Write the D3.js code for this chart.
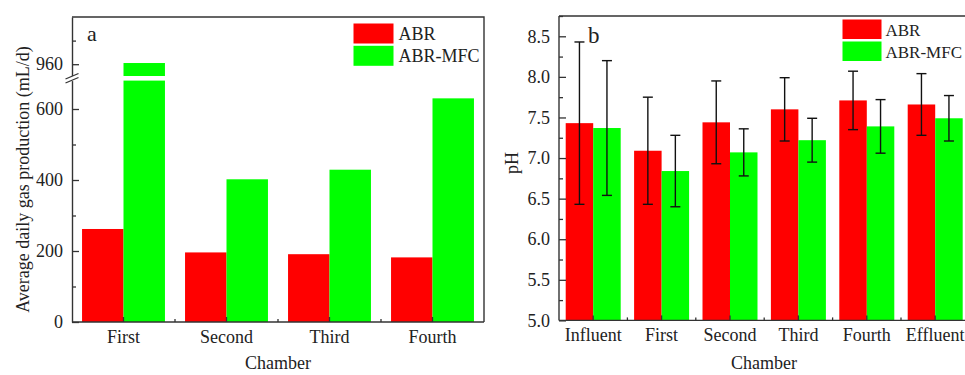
<!DOCTYPE html>
<html>
<head>
<meta charset="utf-8">
<script src="https://cdn.jsdelivr.net/npm/d3@7"></script>
<style>
  html, body { margin: 0; padding: 0; background: #fff; }
  svg { display: block; }
  text { font-family: "Liberation Serif", "Times New Roman", serif; fill: #222; }
</style>
</head>
<body>
<svg id="chart" width="965" height="375"></svg>
<script>
// ---- data ----
const series = ["ABR", "ABR-MFC"];
const seriesColors = ["#ff0000", "#00ff00"];

// (a) average daily gas production, mL/d
const gasChambers = ["First", "Second", "Third", "Fourth"];
const gasABR = [262, 196, 191, 182];
const gasABRMFC = [961, 402, 429, 630];
const gasTicksLow = [0, 200, 400, 600];
const gasTicksHigh = [960];

// (b) pH with standard deviations
const phChambers = ["Influent", "First", "Second", "Third", "Fourth", "Effluent"];
const phABR = [7.43, 7.09, 7.44, 7.60, 7.71, 7.66];
const phABRErr = [1.00, 0.66, 0.51, 0.39, 0.36, 0.38];
const phABRMFC = [7.37, 6.84, 7.07, 7.22, 7.39, 7.49];
const phABRMFCErr = [0.83, 0.44, 0.29, 0.27, 0.33, 0.28];
const phTicks = [5.0, 5.5, 6.0, 6.5, 7.0, 7.5, 8.0, 8.5];

const svg = d3.select("#chart");
const axisColor = "#333";
const fontSize = 18;

function styleAxis(g) {
  g.selectAll("path.domain").attr("stroke", axisColor).attr("stroke-width", 1.4);
  g.selectAll(".tick line").attr("stroke", axisColor).attr("stroke-width", 1.3);
  g.selectAll("text").attr("font-family", "Liberation Serif, serif")
    .attr("font-size", fontSize).attr("fill", "#222");
}

// ================= Panel (a): broken y axis =================
{
  const L = 72, R = 484, T = 17, B = 322;
  const breakLowTop = 80.6, breakHighBottom = 76;
  const yLow = d3.scaleLinear().domain([0, 680]).range([B, breakLowTop]);
  const yHigh = d3.scaleLinear().domain([950, 1000]).range([breakHighBottom, T]);
  const x = d3.scaleBand().domain(gasChambers).range([L, R])
    .paddingInner(0.195).paddingOuter(0.0975);
  const xs = d3.scaleBand().domain(series).range([0, x.bandwidth()]);
  const g = svg.append("g");

  const rows = gasChambers.map((c, i) => ({ c, vals: [gasABR[i], gasABRMFC[i]] }));
  rows.forEach(r => {
    r.vals.forEach((v, k) => {
      const x0 = x(r.c) + xs(series[k]);
      const w = xs.bandwidth();
      const lowTop = yLow(Math.min(v, 680));
      g.append("rect").attr("x", x0).attr("y", lowTop)
        .attr("width", w).attr("height", B - lowTop)
        .attr("fill", seriesColors[k]);
      if (v > 950) {
        const hiTop = yHigh(v);
        g.append("rect").attr("x", x0).attr("y", hiTop)
          .attr("width", w).attr("height", breakHighBottom - hiTop)
          .attr("fill", seriesColors[k]);
      }
    });
  });

  // y axis, lower segment
  const axLow = g.append("g").attr("transform", `translate(${L},0)`)
    .call(d3.axisLeft(yLow).tickValues(gasTicksLow).tickSize(-7).tickSizeOuter(0).tickPadding(9));
  styleAxis(axLow);
  g.append("g").attr("transform", `translate(${L},0)`)
    .call(d3.axisLeft(yLow).tickValues([100, 300, 500]).tickSize(-4).tickSizeOuter(0).tickFormat(""))
    .call(a => { a.select("path.domain").remove(); styleAxis(a); });
  // y axis, upper segment
  const axHigh = g.append("g").attr("transform", `translate(${L},0)`)
    .call(d3.axisLeft(yHigh).tickValues(gasTicksHigh).tickSize(-7).tickSizeOuter(0).tickPadding(9));
  styleAxis(axHigh);
  g.append("g").attr("transform", `translate(${L},0)`)
    .call(d3.axisLeft(yHigh).tickValues([980]).tickSize(-4).tickSizeOuter(0).tickFormat(""))
    .call(a => { a.select("path.domain").remove(); styleAxis(a); });

  // break marks on the y axis
  g.append("polygon")
    .attr("points", "65.5,79 78.5,73.5 78.5,77.5 65.5,83")
    .attr("fill", "#fff");
  [[79, 73.5], [83, 77.5]].forEach(([y1, y2]) => {
    g.append("line").attr("x1", 65.5).attr("y1", y1).attr("x2", 78.5).attr("y2", y2)
      .attr("stroke", axisColor).attr("stroke-width", 1.3);
  });

  // x axis
  const ax = g.append("g").attr("transform", `translate(0,${B})`)
    .call(d3.axisBottom(x).tickSize(-5).tickSizeOuter(0).tickPadding(8));
  styleAxis(ax);
  ax.select("path.domain").attr("d", `M${L},0H${R}`);
  const bounds = gasChambers.slice(0, -1).map(c => x(c) + x.bandwidth() + x.step() * x.paddingInner() / 2);
  bounds.forEach(bx => g.append("line").attr("x1", bx).attr("x2", bx)
    .attr("y1", B).attr("y2", B - 3).attr("stroke", axisColor).attr("stroke-width", 1.3));

  // frame top & right
  g.append("path").attr("d", `M${L},${T}H${R}V${B}`)
    .attr("fill", "none").attr("stroke", axisColor).attr("stroke-width", 1.4);

  g.append("text").attr("x", 87).attr("y", 41).attr("font-size", 22).text("a");

  // legend
  const lg = g.append("g");
  series.forEach((s, k) => {
    lg.append("rect").attr("x", 353.5).attr("y", 23.5 + k * 22.3)
      .attr("width", 40).attr("height", 20).attr("fill", seriesColors[k]);
    lg.append("text").attr("x", 398.5).attr("y", 40 + k * 22.3)
      .attr("font-size", fontSize).text(s);
  });

  g.append("text").attr("transform", `translate(29,${(T + B) / 2 + 10}) rotate(-90)`)
    .attr("text-anchor", "middle").attr("font-size", fontSize)
    .text("Average daily gas production (mL/d)");
  g.append("text").attr("x", (L + R) / 2).attr("y", 369)
    .attr("text-anchor", "middle").attr("font-size", fontSize).text("Chamber");
}

// ================= Panel (b): pH =================
{
  const L = 559, T = 16, B = 320.4;
  const step = 68.4;
  const R = L + step * phChambers.length;
  const y = d3.scaleLinear().domain([5.0, 8.75]).range([B, T]);
  const x = d3.scaleBand().domain(phChambers).range([L, R])
    .paddingInner(0.196).paddingOuter(0.098);
  const xs = d3.scaleBand().domain(series).range([0, x.bandwidth()]);
  const g = svg.append("g");

  const vals = [phABR, phABRMFC];
  const errs = [phABRErr, phABRMFCErr];
  phChambers.forEach((c, i) => {
    series.forEach((s, k) => {
      const x0 = x(c) + xs(s);
      const v = vals[k][i];
      g.append("rect").attr("x", x0).attr("y", y(v))
        .attr("width", xs.bandwidth()).attr("height", B - y(v))
        .attr("fill", seriesColors[k]);
    });
  });
  // error bars on top of the bars
  phChambers.forEach((c, i) => {
    series.forEach((s, k) => {
      const cx = x(c) + xs(s) + xs.bandwidth() / 2;
      const v = vals[k][i], e = errs[k][i];
      const top = y(v + e), bot = y(v - e);
      const eb = g.append("g").attr("stroke", "#111").attr("stroke-width", 1.4);
      eb.append("line").attr("x1", cx).attr("x2", cx).attr("y1", top).attr("y2", bot);
      eb.append("line").attr("x1", cx - 5).attr("x2", cx + 5).attr("y1", top).attr("y2", top);
      eb.append("line").attr("x1", cx - 5).attr("x2", cx + 5).attr("y1", bot).attr("y2", bot);
    });
  });

  const ay = g.append("g").attr("transform", `translate(${L},0)`)
    .call(d3.axisLeft(y).tickValues(phTicks).tickSize(-7).tickSizeOuter(0).tickPadding(9)
      .tickFormat(d3.format(".1f")));
  styleAxis(ay);
  ay.select("path.domain").attr("d", `M0,${B}V${T}`);
  g.append("g").attr("transform", `translate(${L},0)`)
    .call(d3.axisLeft(y).tickValues(phTicks.map(t => t + 0.25)).tickSize(-4).tickSizeOuter(0).tickFormat(""))
    .call(a => { a.select("path.domain").remove(); styleAxis(a); });

  const ax = g.append("g").attr("transform", `translate(0,${B})`)
    .call(d3.axisBottom(x).tickSize(-5).tickSizeOuter(0).tickPadding(8));
  styleAxis(ax);
  ax.select("path.domain").attr("d", `M${L},0H${R}`);
  const bounds = phChambers.slice(0, -1).map(c => x(c) + x.bandwidth() + x.step() * x.paddingInner() / 2);
  bounds.forEach(bx => g.append("line").attr("x1", bx).attr("x2", bx)
    .attr("y1", B).attr("y2", B - 3).attr("stroke", axisColor).attr("stroke-width", 1.3));

  g.append("path").attr("d", `M${L},${T}H${R}V${B}`)
    .attr("fill", "none").attr("stroke", axisColor).attr("stroke-width", 1.4);

  g.append("text").attr("x", 588).attr("y", 43).attr("font-size", 23).text("b");

  const lg = g.append("g");
  series.forEach((s, k) => {
    lg.append("rect").attr("x", 842.5).attr("y", 19.5 + k * 22)
      .attr("width", 39).attr("height", 19.5).attr("fill", seriesColors[k]);
    lg.append("text").attr("x", 885.5).attr("y", 36 + k * 22)
      .attr("font-size", 17).text(s);
  });

  g.append("text").attr("transform", `translate(518,163) rotate(-90)`)
    .attr("text-anchor", "middle").attr("font-size", fontSize).text("pH");
  g.append("text").attr("x", 764).attr("y", 369)
    .attr("text-anchor", "middle").attr("font-size", fontSize).text("Chamber");
}
</script>
</body>
</html>
